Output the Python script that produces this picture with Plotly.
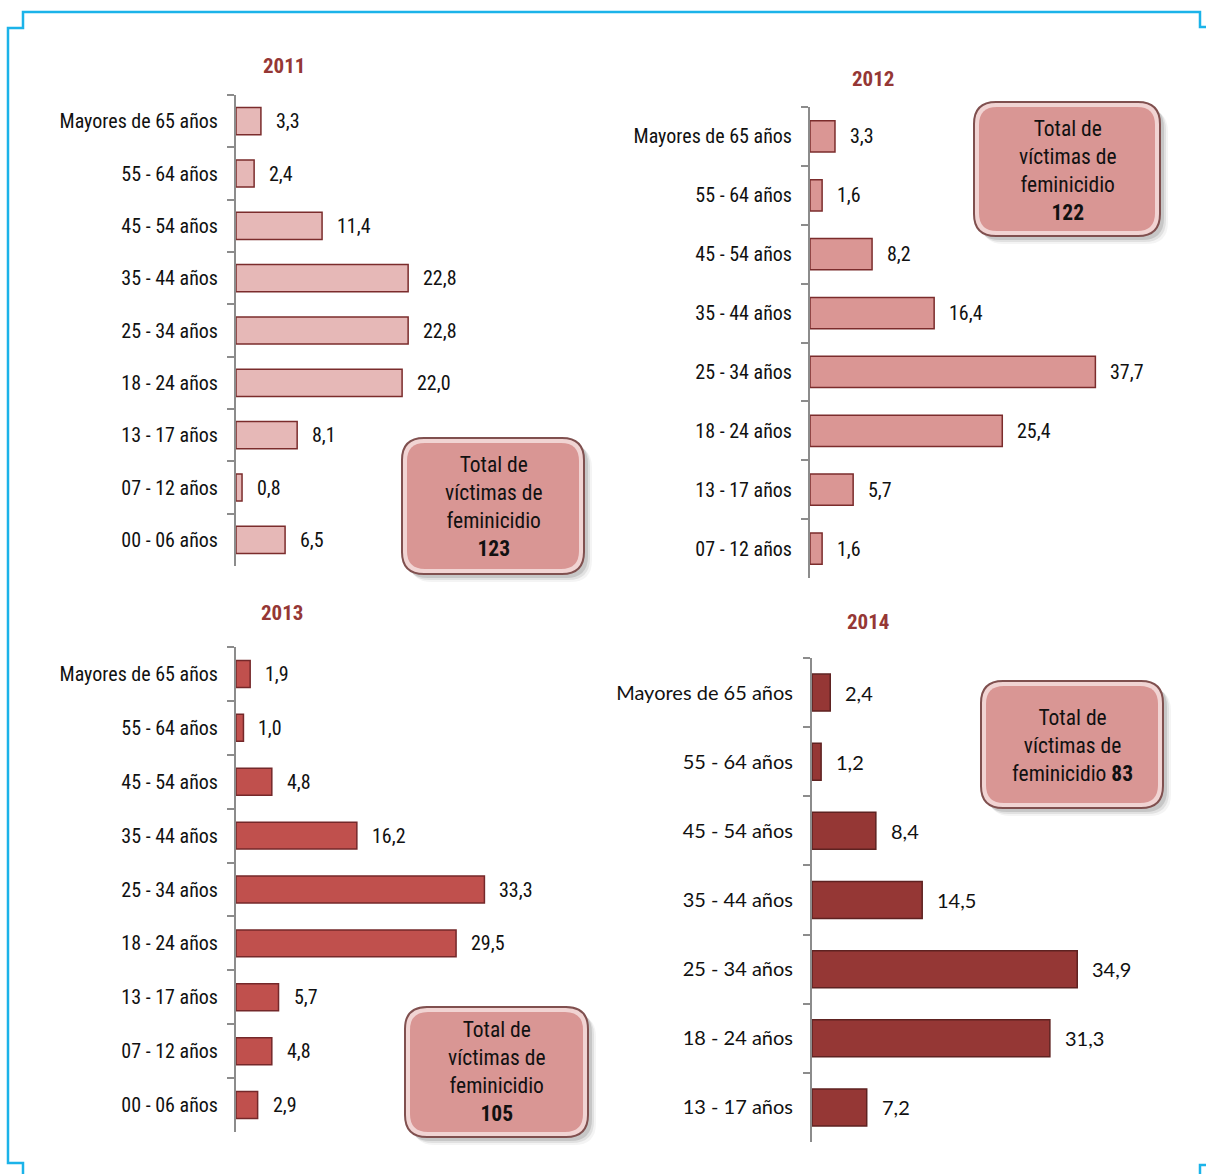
import plotly.graph_objects as go

W, H = 1206, 1174

# ---------------- data ----------------
years = ["2011", "2012", "2013", "2014"]
totals = [123, 122, 105, 83]

cats_2011 = ["Mayores de 65 años", "55 - 64 años", "45 - 54 años", "35 - 44 años",
             "25 - 34 años", "18 - 24 años", "13 - 17 años", "07 - 12 años", "00 - 06 años"]
vals_2011 = [3.3, 2.4, 11.4, 22.8, 22.8, 22.0, 8.1, 0.8, 6.5]

cats_2012 = ["Mayores de 65 años", "55 - 64 años", "45 - 54 años", "35 - 44 años",
             "25 - 34 años", "18 - 24 años", "13 - 17 años", "07 - 12 años"]
vals_2012 = [3.3, 1.6, 8.2, 16.4, 37.7, 25.4, 5.7, 1.6]

cats_2013 = ["Mayores de 65 años", "55 - 64 años", "45 - 54 años", "35 - 44 años",
             "25 - 34 años", "18 - 24 años", "13 - 17 años", "07 - 12 años", "00 - 06 años"]
vals_2013 = [1.9, 1.0, 4.8, 16.2, 33.3, 29.5, 5.7, 4.8, 2.9]

cats_2014 = ["Mayores de 65 años", "55 - 64 años", "45 - 54 años", "35 - 44 años",
             "25 - 34 años", "18 - 24 años", "13 - 17 años"]
vals_2014 = [2.4, 1.2, 8.4, 14.5, 34.9, 31.3, 7.2]

all_cats = [cats_2011, cats_2012, cats_2013, cats_2014]
all_vals = [vals_2011, vals_2012, vals_2013, vals_2014]

# ---------------- styling / layout (pixels) ----------------
NARROW = "Roboto Condensed, Liberation Sans Narrow, Arial Narrow, sans-serif"
CALIBRI = "Lato, Carlito, Calibri, sans-serif"

panels = [
    dict(x0=236, ppu=7.55, top=95, bot=566, xmax=40, width=0.52, standoff=12,
         fill="#E6B8B7", line="#7B2C2C", font=NARROW, fsize=20, title_xy=(284, 66)),
    dict(x0=810, ppu=7.57, top=107, bot=578, xmax=45, width=0.53, standoff=12,
         fill="#DA9694", line="#7B2C2C", font=NARROW, fsize=20, title_xy=(873, 79)),
    dict(x0=236, ppu=7.46, top=647, bot=1132, xmax=45, width=0.50, standoff=12,
         fill="#C0504D", line="#74282A", font=NARROW, fsize=20, title_xy=(282, 613)),
    dict(x0=812, ppu=7.6, top=658, bot=1142, xmax=45, width=0.535, standoff=13,
         fill="#953735", line="#5E2221", font=CALIBRI, fsize=20, title_xy=(868, 622)),
]

boxes = [
    dict(x0=402, y0=438, x1=584, y1=574, text="Total de<br>víctimas de<br>feminicidio<br><b>{}</b>", ty=506),
    dict(x0=974, y0=102, x1=1160, y1=236, text="Total de<br>víctimas de<br>feminicidio<br><b>{}</b>", ty=170),
    dict(x0=405, y0=1007, x1=588, y1=1137, text="Total de<br>víctimas de<br>feminicidio<br><b>{}</b>", ty=1071),
    dict(x0=981, y0=681, x1=1163, y1=808, text="Total de<br>víctimas de<br>feminicidio <b>{}</b>", ty=745),
]


def px(x):
    return x / W


def py(y):
    return 1 - y / H


def fmt(v):
    return f"{v:.1f}".replace(".", ",")


fig = go.Figure()
annotations = []
shapes = []
layout = {}

for i, (p, cats, vals, yr) in enumerate(zip(panels, all_cats, all_vals, years)):
    k = "" if i == 0 else str(i + 1)
    xa, ya = "x" + k, "y" + k
    n = len(cats)
    fig.add_trace(go.Bar(
        x=vals, y=cats, orientation="h", xaxis=xa, yaxis=ya,
        width=p["width"],
        marker=dict(color=p["fill"], line=dict(color=p["line"], width=1.5)),
        hoverinfo="x+y", showlegend=False,
    ))
    x1 = p["x0"] + p["ppu"] * p["xmax"]
    layout["xaxis" + k] = dict(domain=[px(p["x0"]), px(x1)], range=[0, p["xmax"]],
                               visible=False, anchor=ya, fixedrange=True)
    layout["yaxis" + k] = dict(
        domain=[py(p["bot"]), py(p["top"])], anchor=xa, type="category",
        categoryorder="array", categoryarray=cats, range=[n - 0.5, -0.5],
        tickson="boundaries", ticks="outside", ticklen=7, tickwidth=1.5,
        tickcolor="#8C8C8C", showline=True, linecolor="#8C8C8C", linewidth=2,
        showgrid=False, zeroline=False, ticklabelstandoff=p["standoff"],
        tickfont=dict(family=p["font"], size=p["fsize"], color="#111111"),
        fixedrange=True,
    )
    for c, v in zip(cats, vals):
        annotations.append(dict(
            x=v, y=c, xref=xa, yref=ya, text=fmt(v), showarrow=False,
            xanchor="left", yanchor="middle", xshift=13,
            font=dict(family=p["font"], size=p["fsize"], color="#111111"),
        ))
    tx, ty = p["title_xy"]
    annotations.append(dict(
        x=px(tx), y=py(ty), xref="paper", yref="paper", text=f"<b>{yr}</b>",
        showarrow=False, xanchor="center", yanchor="middle",
        font=dict(family=NARROW, size=21, color="#953735"),
    ))


def rrect(x0, y0, x1, y1, r):
    pts = [
        ("M", (x0 + r, y0)), ("L", (x1 - r, y0)), ("Q", (x1, y0), (x1, y0 + r)),
        ("L", (x1, y1 - r)), ("Q", (x1, y1), (x1 - r, y1)),
        ("L", (x0 + r, y1)), ("Q", (x0, y1), (x0, y1 - r)),
        ("L", (x0, y0 + r)), ("Q", (x0, y0), (x0 + r, y0)),
    ]
    s = ""
    for seg in pts:
        cmd = seg[0]
        coords = " ".join(f"{px(a):.5f},{py(b):.5f}" for a, b in seg[1:])
        s += f"{cmd} {coords} "
    return s + "Z"


for b, tot in zip(boxes, totals):
    x0, y0, x1, y1 = b["x0"], b["y0"], b["x1"], b["y1"]
    # soft shadow
    for off, op in [(8, 0.08), (6, 0.14), (4, 0.22)]:
        shapes.append(dict(type="path", xref="paper", yref="paper",
                           path=rrect(x0 + off, y0 + off, x1 + off, y1 + off, 22),
                           fillcolor="#6F6F6F", opacity=op, line=dict(width=0), layer="above"))
    shapes.append(dict(type="path", xref="paper", yref="paper",
                       path=rrect(x0, y0, x1, y1, 22),
                       fillcolor="#F1D4D3", line=dict(color="#80504F", width=2), layer="above"))
    shapes.append(dict(type="path", xref="paper", yref="paper",
                       path=rrect(x0 + 5, y0 + 5, x1 - 5, y1 - 5, 18),
                       fillcolor="#D99694", line=dict(width=0), layer="above"))
    annotations.append(dict(
        x=px((x0 + x1) / 2), y=py(b["ty"]), xref="paper", yref="paper",
        text=b["text"].format(tot), showarrow=False, xanchor="center", yanchor="middle",
        align="center", font=dict(family=NARROW, size=21.5, color="#111111"),
    ))

# blue frame
frame_pts = [(1206, 27), (1200, 27), (1200, 12), (23, 12), (23, 28), (8, 28),
             (8, 1163), (23, 1163), (23, 1174)]
fpath = "M " + " L ".join(f"{px(a):.5f},{py(b):.5f}" for a, b in frame_pts)
shapes.append(dict(type="path", xref="paper", yref="paper", path=fpath,
                   line=dict(color="#1BB3E9", width=2.5), layer="above"))
br_pts = [(1206, 1165), (1200, 1165), (1200, 1174)]
shapes.append(dict(type="path", xref="paper", yref="paper",
                   path="M " + " L ".join(f"{px(a):.5f},{py(b):.5f}" for a, b in br_pts),
                   line=dict(color="#1BB3E9", width=2.5), layer="above"))

fig.update_layout(
    width=W, height=H, margin=dict(l=0, r=0, t=0, b=0),
    paper_bgcolor="white", plot_bgcolor="rgba(0,0,0,0)",
    annotations=annotations, shapes=shapes, showlegend=False,
    **layout,
)

fig.write_html("out.html", config={"displayModeBar": False},
               post_script="document.body.style.margin='0px';")
